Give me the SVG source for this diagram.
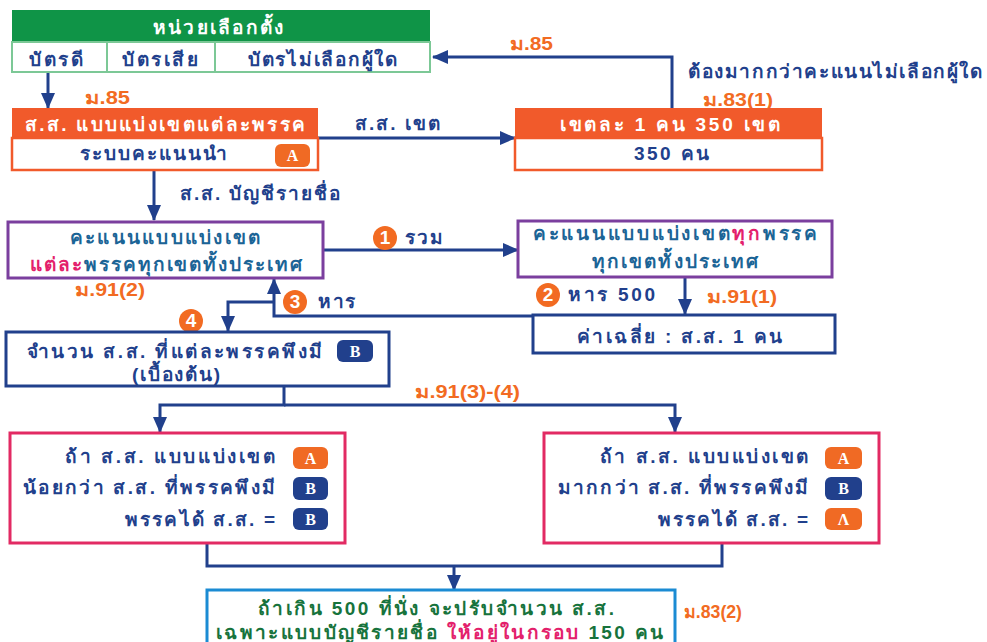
<svg xmlns="http://www.w3.org/2000/svg" width="987" height="642" viewBox="0 0 987 642">
<defs>
<style>
.t{font-family:"Liberation Sans","DejaVu Sans",sans-serif;font-weight:bold;font-size:19px}
.c{text-anchor:middle}
.blue{fill:#21408c}
.w{fill:#ffffff}
.or{fill:#f26b22}
.teal{fill:#1b6496}
.pink{fill:#e3206b}
.grn{fill:#17733c}
.ln{stroke:#21408c;stroke-width:3;fill:none}
.badge{font-family:"Liberation Serif","DejaVu Serif",serif;font-weight:bold;font-size:16px;fill:#ffffff;text-anchor:middle}
.bA{fill:#f06a24}
.bB{fill:#21408c}
.num{fill:#f26b22}
.lab{font-family:"Liberation Sans","DejaVu Sans",sans-serif;font-weight:bold;font-size:18px;fill:#f26b22}
</style>
<marker id="ah" markerUnits="userSpaceOnUse" markerWidth="16" markerHeight="14" viewBox="0 0 16 14" refX="15" refY="7" orient="auto">
<path d="M0,0 L16,7 L0,14 z" fill="#21408c"/>
</marker>
</defs>
<rect width="987" height="642" fill="#ffffff"/>

<g id="connectors">
<path class="ln" d="M48,72 V108" marker-end="url(#ah)"/>
<path class="ln" d="M672,108 V57 H433" marker-end="url(#ah)"/>
<path class="ln" d="M318,138 H515" marker-end="url(#ah)"/>
<path class="ln" d="M154,170 V220" marker-end="url(#ah)"/>
<path class="ln" d="M323,250 H518" marker-end="url(#ah)"/>
<path class="ln" d="M685,277 V314" marker-end="url(#ah)"/>
<path class="ln" d="M533,316 H274 V279" marker-end="url(#ah)"/>
<path class="ln" d="M274,302 H228 V331" marker-end="url(#ah)"/>
<path class="ln" d="M284,386 V405 H160 V432" marker-end="url(#ah)"/>
<path class="ln" d="M284,405 H675 V432" marker-end="url(#ah)"/>
<path class="ln" d="M207,543 V566 H722 V543"/>
<path class="ln" d="M454,566 V590" marker-end="url(#ah)"/>
<text class="lab" x="510" y="50" textLength="43" lengthAdjust="spacingAndGlyphs">ม.85</text>
<text class="t blue" x="688" y="78" textLength="294" lengthAdjust="spacing">ต้องมากกว่าคะแนนไม่เลือกผู้ใด</text>
<text class="lab" x="703" y="106" textLength="70" lengthAdjust="spacingAndGlyphs">ม.83(1)</text>
<text class="lab" x="85" y="104" textLength="45" lengthAdjust="spacingAndGlyphs">ม.85</text>
<text class="t blue" x="355" y="130" textLength="85" lengthAdjust="spacing">ส.ส. เขต</text>
<text class="t blue" x="180" y="200" textLength="160" lengthAdjust="spacing">ส.ส. บัญชีรายชื่อ</text>
<circle class="num" cx="385" cy="238" r="12"/>
<text class="t w c" x="385" y="244" font-size="15">1</text>
<text class="t blue" x="405" y="244" textLength="38" lengthAdjust="spacing">รวม</text>
<text class="lab" x="75" y="296" textLength="70" lengthAdjust="spacingAndGlyphs">ม.91(2)</text>
<circle class="num" cx="548" cy="295" r="12"/>
<text class="t w c" x="548" y="301" font-size="15">2</text>
<text class="t blue" x="568" y="301" textLength="87" lengthAdjust="spacing">หาร 500</text>
<text class="lab" x="707" y="303" textLength="70" lengthAdjust="spacingAndGlyphs">ม.91(1)</text>
<circle class="num" cx="295" cy="302" r="12"/>
<text class="t w c" x="295" y="308" font-size="15">3</text>
<text class="t blue" x="318" y="308" textLength="37" lengthAdjust="spacing">หาร</text>
<circle class="num" cx="191" cy="321" r="12"/>
<text class="t w c" x="191" y="327" font-size="15">4</text>
<text class="lab" x="415" y="398" textLength="105" lengthAdjust="spacingAndGlyphs">ม.91(3)-(4)</text>
<text class="lab" x="684" y="618" textLength="58" lengthAdjust="spacingAndGlyphs">ม.83(2)</text>
</g>

<g id="polling-unit">
<rect x="12" y="10" width="418" height="32" fill="#0f9447"/>
<rect x="12" y="42" width="418" height="30" fill="#ffffff" stroke="#7cc896" stroke-width="2"/>
<line x1="107" y1="42" x2="107" y2="72" stroke="#7cc896" stroke-width="2"/>
<line x1="215" y1="42" x2="215" y2="72" stroke="#7cc896" stroke-width="2"/>
<text class="t w" x="153" y="34" textLength="130" lengthAdjust="spacing">หน่วยเลือกตั้ง</text>
<text class="t blue" x="29" y="66" textLength="54" lengthAdjust="spacing">บัตรดี</text>
<text class="t blue" x="122" y="66" textLength="76" lengthAdjust="spacing">บัตรเสีย</text>
<text class="t blue" x="248" y="66" textLength="149" lengthAdjust="spacing">บัตรไม่เลือกผู้ใด</text>
</g>

<g id="district-party">
<rect x="12" y="108" width="306" height="30" fill="#f15a2b"/>
<rect x="12" y="138" width="306" height="32" fill="#ffffff" stroke="#f15a2b" stroke-width="2.5"/>
<text class="t w" x="25" y="131" textLength="280" lengthAdjust="spacing">ส.ส. แบบแบ่งเขตแต่ละพรรค</text>
<text class="t blue" x="80" y="160" textLength="147" lengthAdjust="spacing">ระบบคะแนนนำ</text>
<rect class="bA" x="275" y="144" width="35" height="23" rx="6"/>
<text class="badge" x="292.5" y="161">A</text>
</g>

<g id="district-seats">
<rect x="515" y="108" width="307" height="30" fill="#f15a2b"/>
<rect x="515" y="138" width="307" height="32" fill="#ffffff" stroke="#f15a2b" stroke-width="2.5"/>
<text class="t w" x="560" y="131" textLength="220" lengthAdjust="spacing">เขตละ 1 คน 350 เขต</text>
<text class="t blue" x="634" y="160" textLength="75" lengthAdjust="spacing">350 คน</text>
</g>

<g id="party-votes">
<rect x="8" y="222" width="315" height="56" fill="#ffffff" stroke="#7b3f9e" stroke-width="3"/>
<text class="t teal" x="70" y="244" textLength="190" lengthAdjust="spacing">คะแนนแบบแบ่งเขต</text>
<text class="t teal" x="30" y="271" textLength="272" lengthAdjust="spacing"><tspan class="pink">แต่ละ</tspan>พรรคทุกเขตทั้งประเทศ</text>
</g>

<g id="all-votes">
<rect x="518" y="221" width="314" height="56" fill="#ffffff" stroke="#7b3f9e" stroke-width="3"/>
<text class="t teal" x="533" y="240" textLength="284" lengthAdjust="spacing">คะแนนแบบแบ่งเขต<tspan class="pink">ทุก</tspan>พรรค</text>
<text class="t teal" x="592" y="268" textLength="166" lengthAdjust="spacing">ทุกเขตทั้งประเทศ</text>
</g>

<g id="average">
<rect x="533" y="315" width="302" height="38" fill="#ffffff" stroke="#21408c" stroke-width="3"/>
<text class="t blue" x="577" y="343" textLength="205" lengthAdjust="spacing">ค่าเฉลี่ย : ส.ส. 1 คน</text>
</g>

<g id="entitled-seats">
<rect x="6" y="332" width="383" height="54" fill="#ffffff" stroke="#21408c" stroke-width="3"/>
<text class="t blue" x="27" y="358" textLength="295" lengthAdjust="spacing">จำนวน ส.ส. ที่แต่ละพรรคพึงมี</text>
<text class="t blue" x="132" y="381" textLength="88" lengthAdjust="spacing">(เบื้องต้น)</text>
<rect class="bB" x="337" y="340" width="36" height="22" rx="6"/>
<text class="badge" x="355" y="357">B</text>
</g>

<g id="case-less">
<rect x="10" y="433" width="335" height="110" fill="#ffffff" stroke="#e22a63" stroke-width="3"/>
<text class="t blue" x="65" y="463" textLength="210" lengthAdjust="spacing">ถ้า ส.ส. แบบแบ่งเขต</text>
<text class="t blue" x="23" y="494" textLength="252" lengthAdjust="spacing">น้อยกว่า ส.ส. ที่พรรคพึงมี</text>
<text class="t blue" x="125" y="526" textLength="150" lengthAdjust="spacing">พรรคได้ ส.ส. =</text>
<rect class="bA" x="293" y="447" width="35" height="22" rx="6"/>
<text class="badge" x="310.5" y="464">A</text>
<rect class="bB" x="293" y="477" width="35" height="23" rx="6"/>
<text class="badge" x="310.5" y="494">B</text>
<rect class="bB" x="293" y="508" width="35" height="22" rx="6"/>
<text class="badge" x="310.5" y="525">B</text>
</g>

<g id="case-more">
<rect x="544" y="433" width="335" height="110" fill="#ffffff" stroke="#e22a63" stroke-width="3"/>
<text class="t blue" x="600" y="463" textLength="208" lengthAdjust="spacing">ถ้า ส.ส. แบบแบ่งเขต</text>
<text class="t blue" x="558" y="494" textLength="250" lengthAdjust="spacing">มากกว่า ส.ส. ที่พรรคพึงมี</text>
<text class="t blue" x="658" y="526" textLength="150" lengthAdjust="spacing">พรรคได้ ส.ส. =</text>
<rect class="bA" x="825" y="447" width="37" height="22" rx="6"/>
<text class="badge" x="843.5" y="464">A</text>
<rect class="bB" x="825" y="477" width="37" height="23" rx="6"/>
<text class="badge" x="843.5" y="494">B</text>
<rect class="bA" x="825" y="508" width="37" height="22" rx="6"/>
<text class="badge" x="843.5" y="525">Λ</text>
</g>

<g id="cap">
<rect x="207" y="590" width="468" height="60" fill="#ffffff" stroke="#1b8bd3" stroke-width="3"/>
<text class="t grn" x="258" y="615" textLength="356" lengthAdjust="spacing">ถ้าเกิน 500 ที่นั่ง จะปรับจำนวน ส.ส.</text>
<text class="t grn" x="216" y="639" textLength="447" lengthAdjust="spacing">เฉพาะแบบบัญชีรายชื่อ <tspan class="pink">ให้อยู่ในกรอบ</tspan> 150 คน</text>
</g>
</svg>
